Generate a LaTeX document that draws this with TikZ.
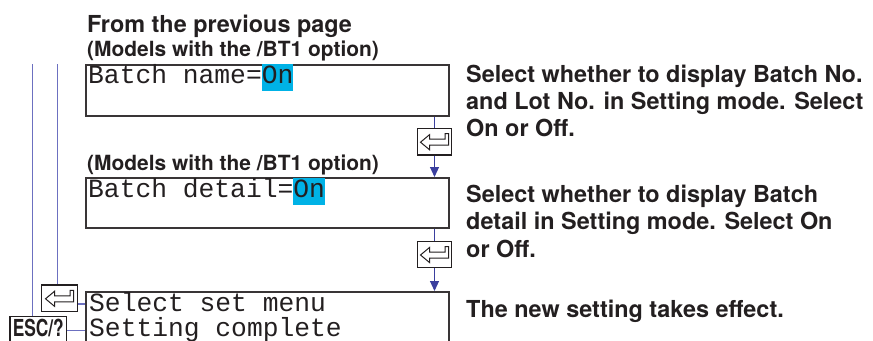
\documentclass[tikz,border=0pt]{standalone}
\usepackage{fontspec}
\usepackage{graphicx}
\usepackage{tikz}
\usetikzlibrary{arrows.meta}
\setmainfont{TeX Gyre Heros}
\newfontfamily\lcdfont{Liberation Mono}
\definecolor{ink}{HTML}{231F20}
\definecolor{hlblue}{HTML}{00B2E6}
\definecolor{flowblue}{HTML}{3A3F9E}
\definecolor{backblue}{HTML}{6C70C0}
\tikzstyle{screen}=[draw=ink!90, line width=1.8bp, inner sep=0pt, anchor=north west, minimum width=363bp]
\tikzstyle{key}=[draw=ink, line width=1.2bp, fill=white, inner sep=0pt, minimum width=34.4bp, minimum height=26.7bp]
\tikzstyle{lcd}=[inner sep=0pt, anchor=base west, text=ink, font=\lcdfont\fontsize{26.4}{22}\selectfont]
\tikzstyle{head}=[inner sep=0pt, anchor=base west, text=ink, font=\bfseries\fontsize{23.5}{27.3}\selectfont]
\tikzstyle{note}=[head, font=\bfseries\fontsize{21}{25}\selectfont]
\tikzstyle{flow}=[draw=flowblue, line width=1.1bp]
\tikzstyle{back}=[draw=backblue, line width=1.1bp]
\newcommand{\onmark}[1]{{\setlength{\fboxsep}{0pt}\colorbox{hlblue}{\rule[-8bp]{0pt}{27bp}#1}}}

\begin{document}
\begin{tikzpicture}[x=1bp, y=-1bp]
    \useasboundingbox (0,0) rectangle (873,340);
    \clip (0,0) rectangle (873,340);
    % headings
    \node[head] (from) at (87,32) {From the previous page};
    \node[note] (m1) at (87,56) {(Models with the /BT1 option)};
    \node[note] (m2) at (87,170) {(Models with the /BT1 option)};
    % screens
    \node[screen, minimum height=51bp] (b1) at (85,64) {};
    \node[screen, minimum height=50bp] (b2) at (85,177) {};
    \node[screen, minimum height=70bp] (b3) at (85,291) {};
    \node[lcd] (s1) at (88,83) {Batch name=\onmark{On}};
    \node[lcd] (s2) at (88,197) {Batch detail=\onmark{On}};
    \node[lcd, text depth=0.5bp] (s3) at (89,311) {Select set menu};
    \node[lcd, text height=16.5bp] (s4) at (89,336) {Setting complete};
    % keys
    \node[key] (k1) at (434.5,141.7) {};
    \node[key] (k2) at (434.5,254.5) {};
    \node[key, minimum width=35.6bp] (k3) at (59.5,298.3) {};
    \node[key, minimum width=56.7bp, minimum height=27bp] (esc) at (38.3,330.2) {};
    \node[inner sep=0pt, anchor=base, text=ink] (esclabel) at (38.3,336.5)
        {\scalebox{0.74}[1]{\bfseries\fontsize{23.5}{24}\selectfont ESC/?}};
    \foreach \k in {k1,k2,k3}
        \draw[ink, line width=1bp, shift={(\k.center)}]
            (-14,0.5) -- (-5,-7) -- (-5,-2.5) -- (10.5,-2.5) -- (10.5,-8)
            -- (14,-8) -- (14,3.5) -- (-5,3.5) -- (-5,8) -- cycle;
    % forward path
    \draw[flow] (k1 |- b1.south) -- (k1.north);
    \draw[flow, -{Triangle[width=9bp,length=10bp]}] (k1.south) -- (k1 |- b2.north);
    \draw[flow] (k2 |- b2.south) -- (k2.north);
    \draw[flow, -{Triangle[width=9bp,length=10bp]}] (k2.south) -- (k2 |- b3.north);
    % return paths
    \coordinate (r1) at (32.7,64);
    \coordinate (r2) at (57.7,64);
    \draw[back] (r1) -- (r1 |- esc.north);
    \draw[back] (r2) -- (r2 |- k3.north);
    \draw[back] ([yshift=-5.7bp]k3.east) -- ([yshift=-5.7bp]k3.east -| b3.west);
    \draw[back] (esc.east) -- (esc.east -| b3.west);
    % explanations (base = last line)
    \node[head, align=left] (t1) at (466,136.6)
        {Select whether to display Batch No.\\and Lot No. in Setting mode. Select\\On or Off.};
    \node[head, align=left] (t2) at (466,257)
        {Select whether to display Batch\\detail in Setting mode. Select On\\or Off.};
    \node[head] (t3) at (466,317) {The new setting takes effect.};
\end{tikzpicture}
\end{document}
